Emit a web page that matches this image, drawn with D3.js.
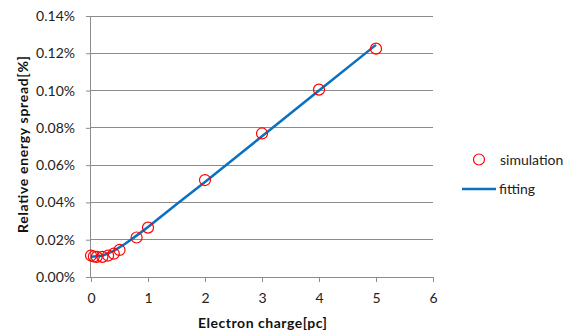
<!DOCTYPE html>
<html><head><meta charset="utf-8">
<script src="https://cdn.jsdelivr.net/npm/d3@7"></script>
<style>body{margin:0;background:#fff;} svg{display:block;font-family:Lato,"Open Sans",sans-serif;}</style>
</head><body><svg id="c" width="576" height="333"></svg>
<script>
const simCharge = [0, 0.05, 0.1, 0.2, 0.3, 0.4, 0.5, 0.8, 1, 2, 3, 4, 5];
const simSpread = [0.0115, 0.0110, 0.0108, 0.0108, 0.0115, 0.0125, 0.0145, 0.0212, 0.0265, 0.0520, 0.0770, 0.1005, 0.1225];
const fitCharge = [0, 0.2, 0.4, 0.6, 0.8, 1, 1.5, 2, 3, 4, 5];
const fitSpread = [0.0108, 0.0114, 0.0140, 0.0178, 0.0222, 0.0268, 0.0390, 0.0510, 0.0755, 0.1000, 0.1245];
const xTicks = [0, 1, 2, 3, 4, 5, 6];
const yTicks = [0, 0.02, 0.04, 0.06, 0.08, 0.10, 0.12, 0.14];

const svg = d3.select("#c");
const x = d3.scaleLinear().domain([0, 6]).range([91, 433]);
const y = d3.scaleLinear().domain([0, 0.14]).range([277, 16]);
const grid = "#8c8c8c";
const FONT = "Lato,'Open Sans',sans-serif";

// gridlines
svg.append("g").selectAll("line").data(yTicks.slice(1)).join("line")
  .attr("x1", x(0)).attr("x2", x(6)).attr("y1", d => y(d)).attr("y2", d => y(d))
  .attr("stroke", grid).attr("stroke-width", 1).attr("shape-rendering", "crispEdges");

// y axis
const ya = svg.append("g").attr("transform", `translate(${x(0)},0)`)
  .call(d3.axisLeft(y).tickValues(yTicks).tickSize(5).tickPadding(11).tickFormat(d => d.toFixed(2) + "%"));
ya.select(".domain").attr("stroke", grid).attr("d", `M-0.5,${y(0)}V${y(0.14)}`);
ya.selectAll(".tick line").attr("stroke", grid);
ya.selectAll(".tick text").attr("font-size", 14).attr("fill", "#222").attr("font-family", FONT);

// x axis
const xa = svg.append("g").attr("transform", `translate(0,${y(0)})`)
  .call(d3.axisBottom(x).tickValues(xTicks).tickSize(5).tickPadding(11).tickFormat(d3.format("d")));
xa.select(".domain").attr("stroke", grid).attr("d", `M${x(0)},0.5H${x(6)}`);
xa.selectAll(".tick line").attr("stroke", grid);
xa.selectAll(".tick text").attr("font-size", 14).attr("fill", "#222").attr("font-family", FONT);

// fit line
svg.append("path").datum(fitCharge.map((c, i) => [c, fitSpread[i]]))
  .attr("fill", "none").attr("stroke", "#0a70c0").attr("stroke-width", 2.5)
  .attr("d", d3.line().x(d => x(d[0])).y(d => y(d[1])));

// simulation points
svg.append("g").selectAll("circle").data(simCharge.map((c, i) => [c, simSpread[i]])).join("circle")
  .attr("cx", d => x(d[0])).attr("cy", d => y(d[1])).attr("r", 5.5)
  .attr("fill", "none").attr("stroke", "#ff0000").attr("stroke-width", 1.2);

// axis titles
svg.append("text").attr("x", 262.5).attr("y", 328).attr("text-anchor", "middle")
  .attr("font-size", 14).attr("font-weight", "bold").attr("fill", "#111")
  .attr("textLength", 129).attr("lengthAdjust", "spacing").text("Electron charge[pc]");
svg.append("text").attr("transform", "translate(28,144.5) rotate(-90)").attr("text-anchor", "middle")
  .attr("font-size", 14).attr("font-weight", "bold").attr("fill", "#111")
  .attr("textLength", 177).attr("lengthAdjust", "spacing").text("Relative energy spread[%]");

// legend
const lg = svg.append("g");
lg.append("circle").attr("cx", 479).attr("cy", 159.5).attr("r", 5.5).attr("fill", "none").attr("stroke", "#ff0000").attr("stroke-width", 1.2);
lg.append("text").attr("x", 500).attr("y", 165).attr("font-size", 14).attr("fill", "#222").text("simulation");
lg.append("line").attr("x1", 462).attr("x2", 496).attr("y1", 189).attr("y2", 189).attr("stroke", "#0a70c0").attr("stroke-width", 2.5);
lg.append("text").attr("x", 499).attr("y", 194).attr("font-size", 14).attr("fill", "#222").text("fitting");
</script></body></html>
